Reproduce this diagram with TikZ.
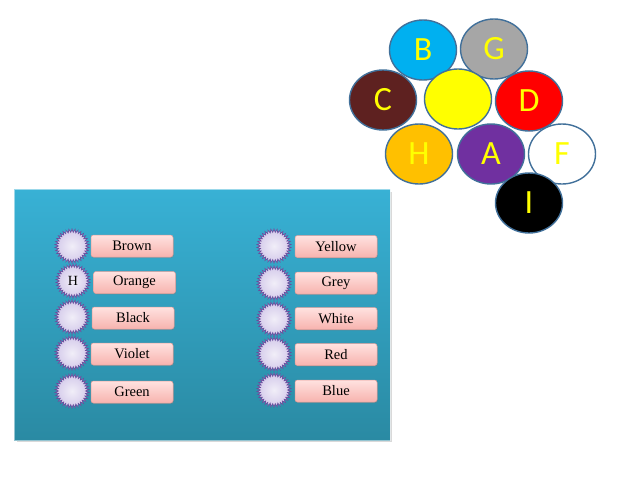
\documentclass[tikz,border=0pt]{standalone}
\usepackage{fontspec}
\setmainfont{Liberation Serif}
\newfontfamily\letterfont{Carlito}
\usetikzlibrary{shapes.geometric,shadows}
\definecolor{ringedge}{HTML}{41709A}
\definecolor{cB}{HTML}{00B0F0}
\definecolor{cG}{HTML}{A6A6A6}
\definecolor{cC}{HTML}{5E2120}
\definecolor{cY}{HTML}{FFFF00}
\definecolor{cD}{HTML}{FF0000}
\definecolor{cH}{HTML}{FFC000}
\definecolor{cA}{HTML}{7030A0}
\definecolor{panelTop}{HTML}{38B1D5}
\definecolor{panelBot}{HTML}{2A8AA3}
\definecolor{burstIn}{HTML}{F1EEF8}
\definecolor{burstOut}{HTML}{D3C9EA}
\definecolor{burstEdge}{HTML}{6A4C9C}
\definecolor{tagTop}{HTML}{FFE2E0}
\definecolor{tagBot}{HTML}{F7B3AE}
\definecolor{tagEdge}{HTML}{E6A09B}
\tikzset{
  ball/.style={ellipse, draw=ringedge, line width=1.4pt, minimum width=67pt, minimum height=60pt, inner sep=0pt,
    text=cY, font=\letterfont\fontsize{34}{34}\selectfont},
  burst/.style={star, star points=34, star point ratio=1.24, minimum size=34pt, inner sep=0pt,
    draw=burstEdge, line width=0.7pt, inner color=burstIn, outer color=burstOut, font=\fontsize{14}{14}\selectfont},
  tag/.style={rectangle, rounded corners=2.5pt, minimum width=82pt, minimum height=22pt, inner sep=0pt,
    top color=tagTop, bottom color=tagBot, draw=tagEdge, line width=0.5pt,
    drop shadow={shadow xshift=0.8pt, shadow yshift=-1.2pt, opacity=0.35},
    font=\fontsize{14.5}{14.5}\selectfont},
}
\begin{document}
\begin{tikzpicture}[x=1pt,y=-1pt]
\useasboundingbox (0,0) rectangle (640,480);
% top-right cluster
\node[ball, fill=cB] (B) at (423,50) {B};
\node[ball, fill=cG] (G) at (494,49) {G};
\node[ball, fill=cC] (C) at (383,100) {C};
\node[ball, fill=cY] (E) at (458,99) {};
\node[ball, fill=cD] (D) at (529,101) {D};
\node[ball, fill=cH] (H) at (419,154) {H};
\node[ball, fill=cA] (A) at (491,154) {A};
\node[ball, fill=white] (F) at (562,154) {F};
\node[ball, fill=black] (I) at (529,203) {I};
% panel
\fill[black, opacity=0.15] (17,192) rectangle (392,442);
\shade[top color=panelTop, bottom color=panelBot] (14,189) rectangle (390,440);
\draw[white, opacity=0.5, line width=0.6pt] (14,189) rectangle (390,440);
% left column
\node[burst] (c1) at (72,246) {};
\node[burst] (c2) at (73,281) {H};
\node[burst] (c3) at (72,317) {};
\node[burst] (c4) at (72,353) {};
\node[burst] (c5) at (72,391) {};
\node[tag] (t1) at (132,246) {Brown};
\node[tag] (t2) at (134.5,282.5) {Orange};
\node[tag] (t3) at (133,318) {Black};
\node[tag] (t4) at (132,354) {Violet};
\node[tag] (t5) at (132,392) {Green};
% right column
\node[burst] (d1) at (274,246) {};
\node[burst] (d2) at (274,283) {};
\node[burst] (d3) at (274,319) {};
\node[burst] (d4) at (274,354) {};
\node[burst] (d5) at (274,390) {};
\node[tag] (u1) at (336,246.5) {Yellow};
\node[tag] (u2) at (336,283) {Grey};
\node[tag] (u3) at (336,318.5) {White};
\node[tag] (u4) at (336,354.5) {Red};
\node[tag] (u5) at (336,391) {Blue};
\end{tikzpicture}
\end{document}
